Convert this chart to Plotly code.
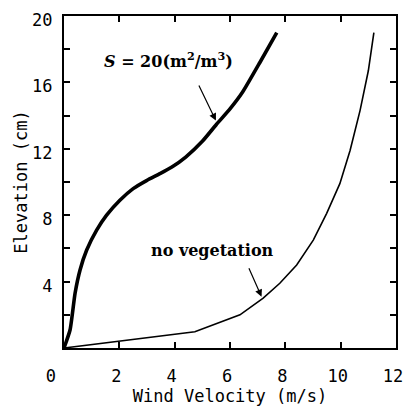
import plotly.graph_objects as go

# Wind velocity profiles (velocity in m/s, elevation in cm)
veg_u = [0.0, 0.22, 0.4, 0.58, 0.82, 1.18, 1.54, 2.02, 2.5, 3.0, 3.47, 3.9, 4.4, 5.0, 5.5, 6.0, 6.45, 7.08, 7.69]
veg_z = [0.0, 1.1, 3.3, 4.7, 5.9, 7.1, 8.0, 8.9, 9.6, 10.1, 10.5, 10.9, 11.5, 12.45, 13.45, 14.4, 15.4, 17.2, 19.0]

bare_u = [0.0, 4.73, 6.36, 7.2, 7.8, 8.41, 9.01, 9.49, 9.97, 10.34, 10.7, 11.0, 11.2]
bare_z = [0.0, 0.98, 2.0, 3.0, 3.9, 5.0, 6.5, 8.1, 9.9, 11.9, 14.3, 16.7, 19.0]

x_ticks = [0, 2, 4, 6, 8, 10, 12]
x_labels = ["0\u00a0\u00a0", "2", "4", "6", "8", "10", "12"]
y_ticks = [2, 4, 6, 8, 10, 12, 14, 16, 18, 20]
y_labels = ["", "4", "", "8", "", "12", "", "16", "", "20"]

mono = "DejaVu Sans Mono"
serif = "DejaVu Serif"

fig = go.Figure()
fig.add_trace(go.Scatter(x=veg_u, y=veg_z, mode="lines",
                         line=dict(color="black", width=3.6, shape="spline", smoothing=0.5),
                         showlegend=False))
fig.add_trace(go.Scatter(x=bare_u, y=bare_z, mode="lines",
                         line=dict(color="black", width=1.6),
                         showlegend=False))

fig.add_annotation(x=5.49, y=13.7, ax=4.85, ay=15.9, xref="x", yref="y", axref="x", ayref="y",
                   text="", showarrow=True, arrowhead=2, arrowsize=1.2, arrowwidth=1.2,
                   arrowcolor="black")
fig.add_annotation(x=3.76, y=17.35, xref="x", yref="y", showarrow=False,
                   text="<i>S</i> = 20(m<sup>2</sup>/m<sup>3</sup>)",
                   font=dict(family=serif, size=16, color="black", weight="bold"))

fig.add_annotation(x=7.14, y=3.09, ax=6.66, ay=4.9, xref="x", yref="y", axref="x", ayref="y",
                   text="", showarrow=True, arrowhead=2, arrowsize=1.2, arrowwidth=1.2,
                   arrowcolor="black")
fig.add_annotation(x=5.37, y=5.9, xref="x", yref="y", showarrow=False,
                   text="no vegetation",
                   font=dict(family=serif, size=16, color="black", weight="bold"))

axis_common = dict(showgrid=False, zeroline=False, showline=True, linecolor="black",
                   linewidth=2, mirror="ticks", ticks="inside", ticklen=6, tickwidth=1.5,
                   tickcolor="black", ticklabeloverflow="allow", automargin=False,
                   tickfont=dict(family=mono, size=17, color="black"))

fig.update_xaxes(range=[0, 12], tickvals=x_ticks, ticktext=x_labels,
                 ticklabelstandoff=12, ticklabelshift=-3,
                 title=dict(text="Wind Velocity (m/s)", standoff=4,
                            font=dict(family=mono, size=17, color="black")),
                 **axis_common)
fig.update_yaxes(range=[0, 20], tickvals=y_ticks, ticktext=y_labels,
                 ticklabelstandoff=6, ticklabelshift=4,
                 title=dict(text="Elevation (cm)", standoff=0,
                            font=dict(family=mono, size=17, color="black")),
                 **axis_common)

fig.update_layout(width=404, height=411, margin=dict(l=64, r=8, t=16, b=63),
                  plot_bgcolor="white", paper_bgcolor="white")

fig.write_html("out.html")
